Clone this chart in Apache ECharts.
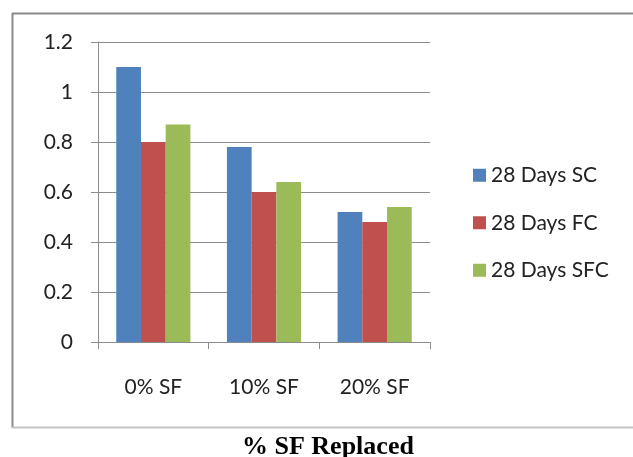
<!DOCTYPE html>
<html>
<head>
<meta charset="utf-8">
<script src="https://cdn.jsdelivr.net/npm/echarts@6/dist/echarts.min.js"></script>
<style>
  html, body { margin: 0; padding: 0; background: #ffffff; }
  #chart { width: 633px; height: 457px; }
</style>
</head>
<body>
<div id="chart"></div>
<script>
// Categories and series values
var categories = ['0% SF', '10% SF', '20% SF'];
var seriesNames = ['28 Days SC', '28 Days FC', '28 Days SFC'];
var valuesSC = [1.1, 0.78, 0.52];
var valuesFC = [0.8, 0.6, 0.48];
var valuesSFC = [0.87, 0.64, 0.54];
var seriesColors = ['#4F81BD', '#C0504D', '#9BBB59'];

var labelFont = 'Lato, "Liberation Sans", sans-serif';

var chart = echarts.init(document.getElementById('chart'), null, { renderer: 'canvas' });

function barSeries(name, data, color) {
  return {
    name: name,
    type: 'bar',
    data: data,
    barGap: '0%',
    barCategoryGap: '33%',
    itemStyle: { color: color },
    emphasis: { disabled: true }
  };
}

chart.setOption({
  animation: false,
  backgroundColor: '#ffffff',
  title: {
    text: '% SF Replaced',
    left: 237,
    top: 429,
    textStyle: {
      fontFamily: '"Liberation Serif", "Times New Roman", serif',
      fontWeight: 'bold',
      fontSize: 26,
      color: '#000000'
    }
  },
  // chart frame: top, left and bottom edges
  graphic: [
    { type: 'line', shape: { x1: 12, y1: 13.5, x2: 633, y2: 13.5 }, style: { stroke: '#8a8a8a', lineWidth: 2 } },
    { type: 'line', shape: { x1: 12.5, y1: 13, x2: 12.5, y2: 428 }, style: { stroke: '#8a8a8a', lineWidth: 2 } },
    { type: 'line', shape: { x1: 12, y1: 427.5, x2: 633, y2: 427.5 }, style: { stroke: '#c4c4c4', lineWidth: 2 } }
  ],
  legend: {
    orient: 'vertical',
    left: 468,
    top: 158,
    itemWidth: 13,
    itemHeight: 13,
    itemGap: 23,
    icon: 'rect',
    textStyle: {
      fontFamily: labelFont,
      fontSize: 21,
      lineHeight: 24.5,
      color: '#222222',
      padding: [0, 0, 0, 0]
    },
    data: seriesNames
  },
  grid: {
    left: 98,
    right: 203,
    top: 42,
    bottom: 115,
    containLabel: false
  },
  xAxis: {
    type: 'category',
    data: categories,
    axisLine: { lineStyle: { color: '#8c8c8c', width: 1 } },
    axisTick: { show: true, length: 7, alignWithLabel: false, lineStyle: { color: '#8c8c8c' } },
    axisLabel: {
      margin: 35,
      fontFamily: labelFont,
      fontSize: 21,
      color: '#222222'
    },
    splitLine: { show: false }
  },
  yAxis: {
    type: 'value',
    min: 0,
    max: 1.2,
    interval: 0.2,
    axisLine: { show: true, lineStyle: { color: '#8c8c8c', width: 1 } },
    axisTick: { show: true, length: 7, lineStyle: { color: '#8c8c8c' } },
    axisLabel: {
      margin: 25,
      fontFamily: labelFont,
      fontSize: 21,
      color: '#222222',
      formatter: function (v) { return String(Math.round(v * 10) / 10); }
    },
    splitLine: { show: true, lineStyle: { color: '#8c8c8c', width: 1 } }
  },
  series: [
    barSeries(seriesNames[0], valuesSC, seriesColors[0]),
    barSeries(seriesNames[1], valuesFC, seriesColors[1]),
    barSeries(seriesNames[2], valuesSFC, seriesColors[2])
  ]
});
</script>
</body>
</html>
